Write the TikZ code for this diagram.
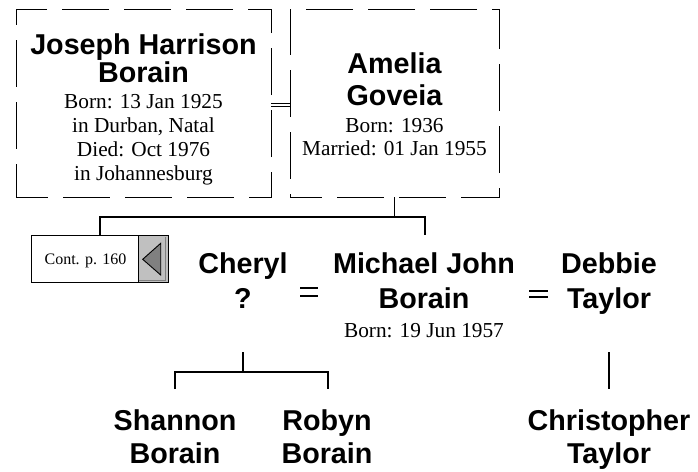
\documentclass[tikz,border=0pt]{standalone}
\usepackage{fontspec}
\setmainfont{Liberation Serif}
\newfontfamily\namefam{Liberation Sans}
\newcommand\namefont{\namefam\bfseries\fontsize{28.7pt}{32pt}\selectfont}
\newcommand\datafont{\rmfamily\fontsize{21.3pt}{24pt}\selectfont}
\newcommand\nmx[3]{{\namefont\vrule height#1pt depth#2pt width0pt #3}}
\newcommand\dtx[3]{{\datafont\vrule height#1pt depth#2pt width0pt #3}}
\newcommand\famtext[1]{\vtop{\baselineskip=0pt\lineskip=0pt\lineskiplimit=0pt\halign{\hfil##\hfil\cr#1\crcr}}}
\definecolor{btnface}{RGB}{192,192,192}
\definecolor{btnshade}{RGB}{128,128,128}
\tikzset{
  person/.style={inner sep=0pt, anchor=base},
  dashbox/.style={draw, line width=0.9pt, dash pattern=on 47pt off 15pt, dash phase=15pt, inner sep=0pt},
  conn/.style={line width=1.3pt},
  eqline/.style={line width=1.4pt},
  eqthin/.style={line width=1pt},
  contbox/.style={inner sep=0pt, minimum width=136pt, minimum height=46pt},
}
\begin{document}
\begin{tikzpicture}[x=1pt,y=-1pt]
\useasboundingbox (0,0) rectangle (698,471);
\fill[white] (0,0) rectangle (698,471);

% parents' boxes
\node[dashbox, minimum width=255pt, minimum height=188pt] (jobox) at (143.5,103) {};
\node[dashbox, minimum width=209pt, minimum height=188pt] (ambox) at (394.5,103) {};

\node[person] (jo) at (143.5,54) {\famtext{%
  \nmx{22}{6}{Joseph Harrison}\cr
  \nmx{22}{6}{Borain}\cr
  \dtx{20}{4}{Born: 13 Jan 1925}\cr
  \dtx{20}{4}{in Durban, Natal}\cr
  \dtx{20}{4}{Died: Oct 1976}\cr
  \dtx{20}{4}{in Johannesburg}}};
\node[person] (am) at (394.5,73) {\famtext{%
  \nmx{25}{7}{Amelia}\cr
  \nmx{25}{7}{Goveia}\cr
  \dtx{20}{3}{Born: 1936}\cr
  \dtx{20}{3}{Married: 01 Jan 1955}}};

% marriage of parents
\draw[eqthin] ([yshift=-0.5pt]jobox.east) -- ([yshift=-0.5pt]ambox.west);
\draw[eqthin] ([yshift=-3pt]jobox.east) -- ([yshift=-3pt]ambox.west);

% continuation box
\node[contbox] (cont) at (100,259) {};
\fill[btnface] ([xshift=-30pt]cont.north east) rectangle (cont.south east);
\draw[btnshade, line width=1.2pt] ([xshift=-3pt,yshift=-1pt]cont.north east) -- ([xshift=-3pt,yshift=2pt]cont.south east) -- ([xshift=-30pt,yshift=2pt]cont.south east);
\draw[line width=1.3pt] (cont.north west) rectangle (cont.south east);
\draw[line width=1.3pt] ([xshift=-30pt]cont.north east) -- ([xshift=-30pt]cont.south east);
\filldraw[fill=btnshade, draw=black, line width=0.9pt] (142.7,259.3) -- (160.7,243.3) -- (160.7,275) -- cycle;
\node[person, font=\rmfamily\fontsize{16pt}{18pt}\selectfont] (conttext) at (85.5,264) {Cont. p. 160};

% children generation
\node[person] (ch) at (243,273) {\famtext{%
  \nmx{25}{10}{Cheryl}\cr
  \nmx{25}{10}{?}}};
\node[person] (mj) at (424,273) {\famtext{%
  \nmx{25}{10}{Michael John}\cr
  \nmx{25}{10}{Borain}\cr
  \dtx{19}{5}{Born: 19 Jun 1957}}};
\node[person] (db) at (609,273) {\famtext{%
  \nmx{25}{10}{Debbie}\cr
  \nmx{25}{10}{Taylor}}};

% grandchildren
\node[person] (sh) at (175,430) {\famtext{%
  \nmx{23}{10}{Shannon}\cr
  \nmx{23}{10}{Borain}}};
\node[person] (rb) at (327,430) {\famtext{%
  \nmx{23}{10}{Robyn}\cr
  \nmx{23}{10}{Borain}}};
\node[person] (ct) at (609,430) {\famtext{%
  \nmx{23}{10}{Christopher}\cr
  \nmx{23}{10}{Taylor}}};

% family line of the parents
\coordinate (fA) at (394.5,217);
\coordinate (mjtop) at (425,235);
\draw[conn] (ambox.south) -- (fA);
\draw[conn] (cont.north) |- (fA) -| (mjtop);

% marriages of Michael John
\coordinate (cmL) at (300,292);
\coordinate (cmR) at (318,292);
\draw[eqline] ([yshift=4pt]cmL) -- ([yshift=4pt]cmR);
\draw[eqline] ([yshift=-4pt]cmL) -- ([yshift=-4pt]cmR);
\coordinate (mdL) at (529,294);
\coordinate (mdR) at (548,294);
\draw[eqline] ([yshift=3pt]mdL) -- ([yshift=3pt]mdR);
\draw[eqline] ([yshift=-3pt]mdL) -- ([yshift=-3pt]mdR);

% children lines
\coordinate (cmA) at (243,352);
\coordinate (cmB) at (243,372);
\coordinate (shtop) at (175,389);
\coordinate (rbtop) at (328,389);
\draw[conn] (cmA) -- (cmB);
\draw[conn] (shtop) |- (cmB) -| (rbtop);
\coordinate (dbA) at (609,352);
\coordinate (cttop) at (609,389);
\draw[conn] (dbA) -- (cttop);
\end{tikzpicture}
\end{document}
